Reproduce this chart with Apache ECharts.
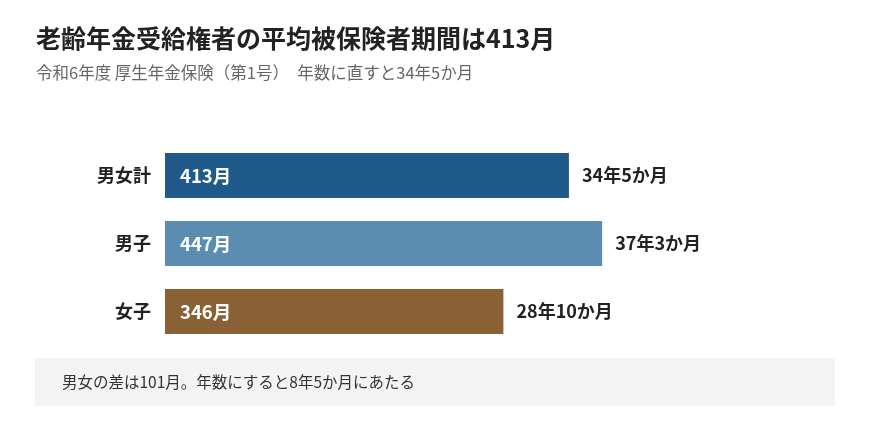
<!DOCTYPE html>
<html>
<head>
<meta charset="utf-8">
<script src="https://cdn.jsdelivr.net/npm/echarts@6/dist/echarts.min.js"></script>
<style>
  html, body { margin: 0; padding: 0; background: #fff; }
  #chart { width: 870px; height: 440px; }
</style>
</head>
<body>
<div id="chart"></div>
<script>
// 老齢年金受給権者の平均被保険者期間（令和6年度 厚生年金保険 第1号）
var categories = ['男女計', '男子', '女子'];
var months = [413, 447, 346];
var yearLabels = ['34年5か月', '37年3か月', '28年10か月'];
var barColors = ['#1f5a8a', '#5b8db0', '#8a6035'];

var font = '"Noto Sans CJK JP", "Noto Sans", sans-serif';

var chart = echarts.init(document.getElementById('chart'));
chart.setOption(option = {
    backgroundColor: '#fff',
    textStyle: { fontFamily: font },
    title: [{
        text: '老齢年金受給権者の平均被保険者期間は413月',
        left: 31,
        top: 21,
        textStyle: { fontFamily: font, fontSize: 25, fontWeight: 'bold', color: '#222' }
    }, {
        text: '令和6年度 厚生年金保険（第1号）　年数に直すと34年5か月',
        left: 31,
        top: 59,
        textStyle: { fontFamily: font, fontSize: 16.5, fontWeight: 'normal', color: '#666' }
    }],
    grid: {
        left: 165,
        top: 141.5,
        width: 489,
        height: 204
    },
    xAxis: {
        type: 'value',
        min: 0,
        max: 500,
        show: false
    },
    yAxis: {
        type: 'category',
        data: categories,
        inverse: true,
        axisLine: { show: false },
        axisTick: { show: false },
        axisLabel: {
            margin: 14,
            fontFamily: font,
            fontSize: 18,
            fontWeight: 'bold',
            color: '#222'
        }
    },
    series: [{
        name: '月数',
        type: 'bar',
        barWidth: 45,
        data: months.map(function (v, i) {
            return { value: v, itemStyle: { color: barColors[i] } };
        }),
        label: {
            show: true,
            position: 'insideLeft',
            distance: 15,
            formatter: '{c}月',
            fontFamily: font,
            fontSize: 18.5,
            fontWeight: 'bold',
            color: '#fff'
        },
        silent: true
    }, {
        name: '年数',
        type: 'bar',
        barWidth: 45,
        barGap: '-100%',
        data: months,
        itemStyle: { color: 'rgba(0,0,0,0)' },
        label: {
            show: true,
            position: 'right',
            distance: 13,
            formatter: function (p) {
                return yearLabels[p.dataIndex];
            },
            fontFamily: font,
            fontSize: 18,
            fontWeight: 'bold',
            color: '#222'
        },
        silent: true
    }],
    graphic: [{
        type: 'rect',
        shape: { x: 35, y: 358, width: 800, height: 48 },
        style: { fill: '#f3f3f3' },
        silent: true
    }, {
        type: 'text',
        x: 62,
        y: 382,
        style: {
            text: '男女の差は101月。年数にすると8年5か月にあたる',
            fontFamily: font,
            fontSize: 15.5,
            fill: '#333',
            verticalAlign: 'middle'
        },
        silent: true
    }]
});
</script>
</body>
</html>
